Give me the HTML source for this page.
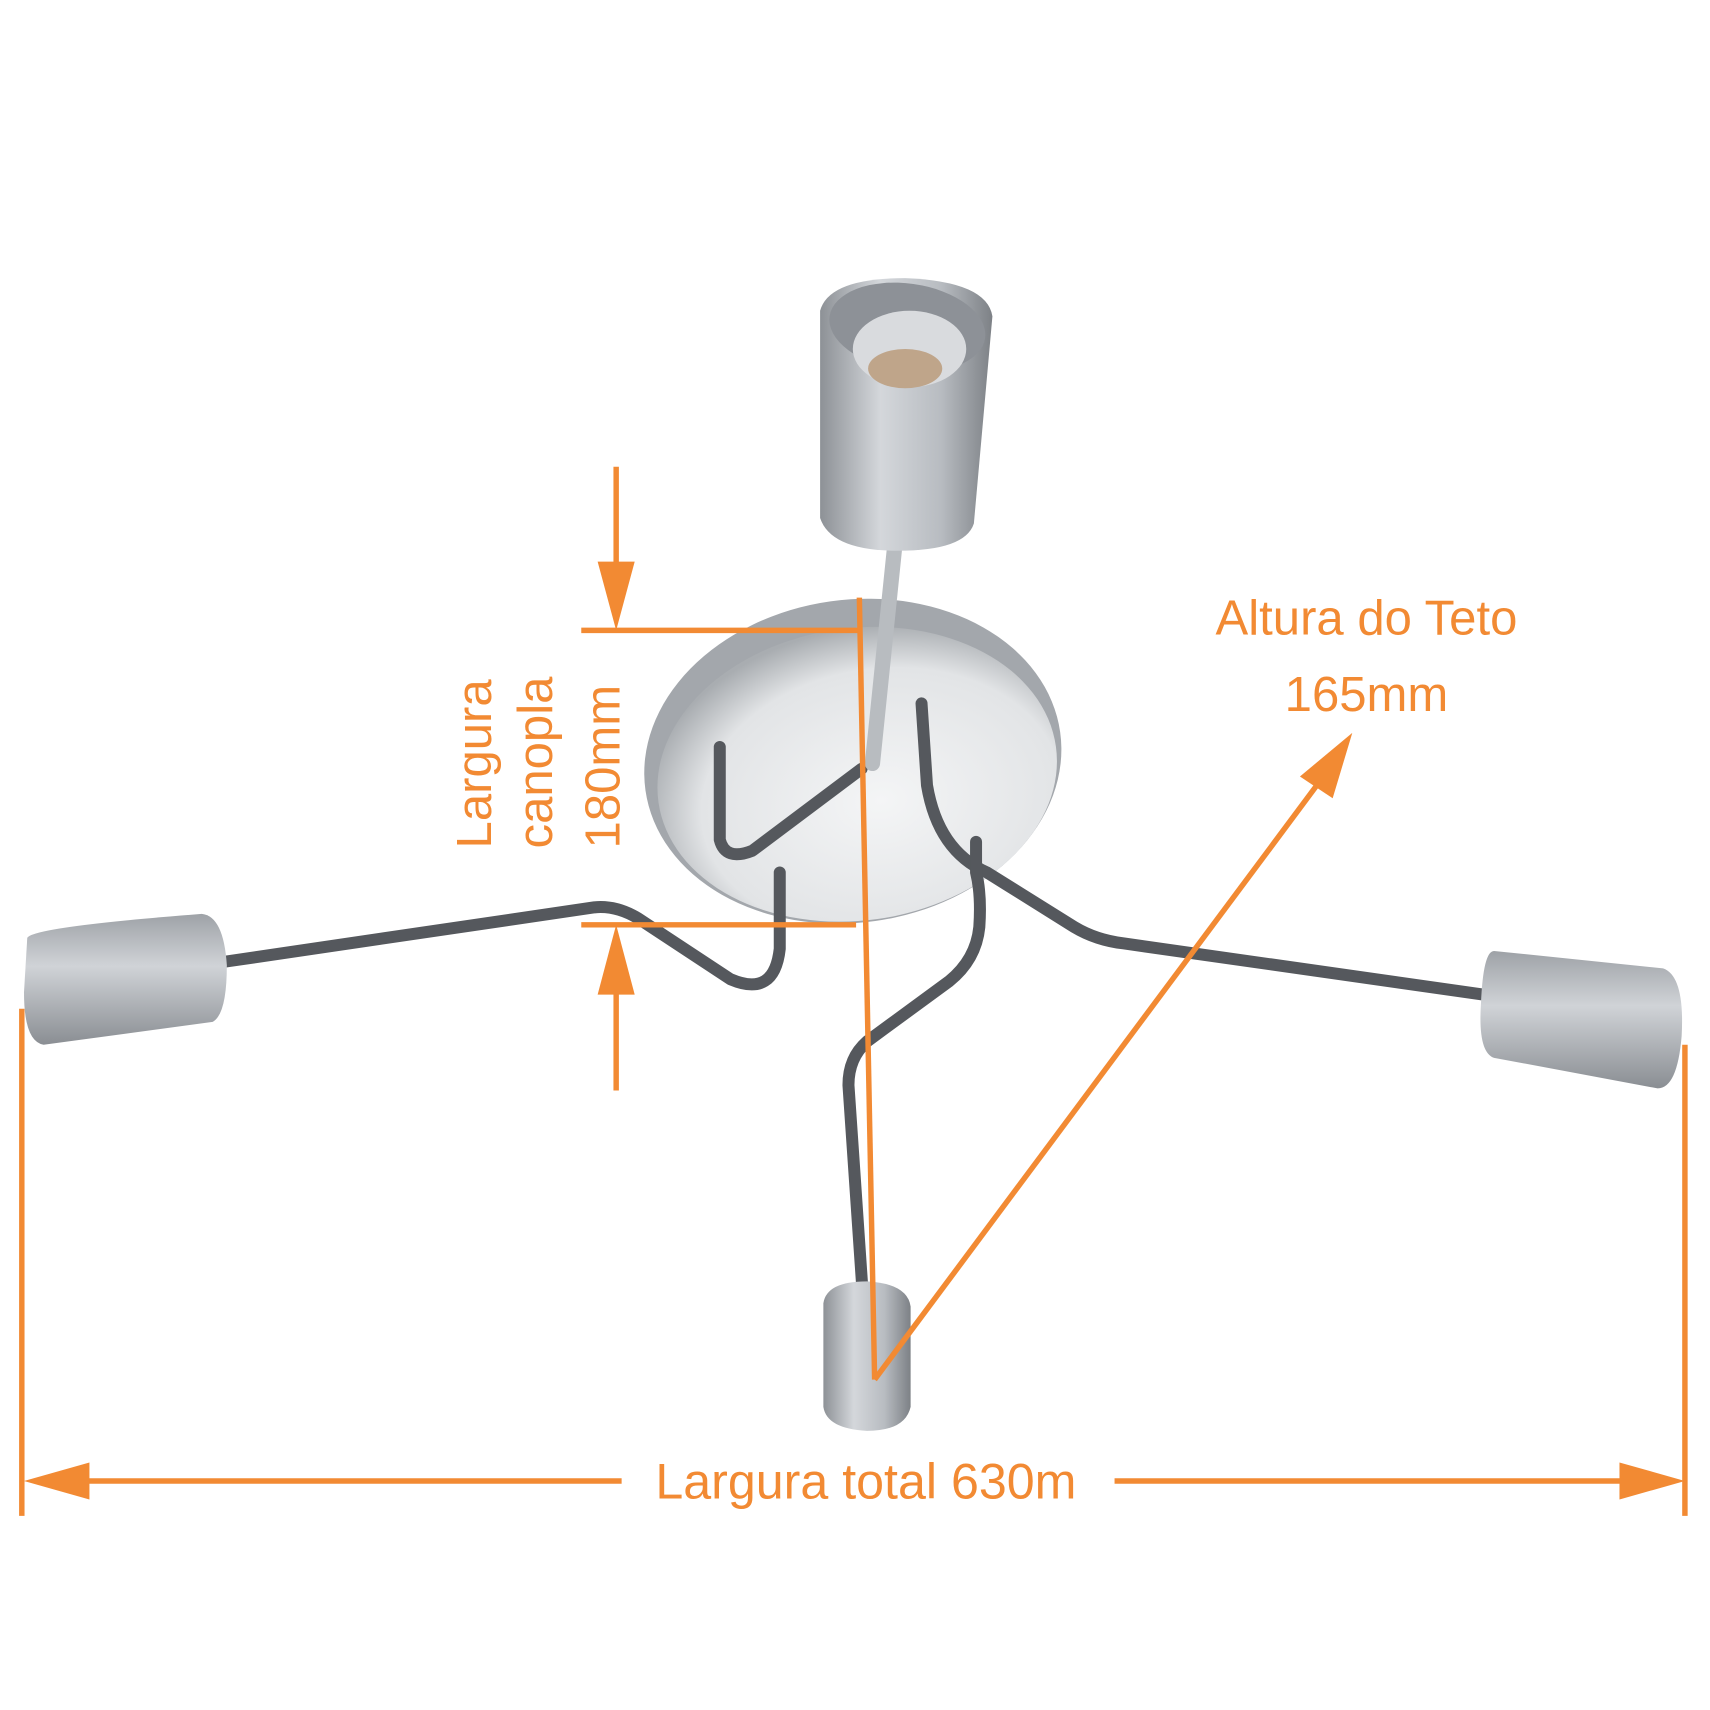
<!DOCTYPE html>
<html><head><meta charset="utf-8"><style>
html,body{margin:0;padding:0;background:#fff}
svg{display:block}
text{font-family:"Liberation Sans",sans-serif;fill:#f28a33}
</style></head><body>
<svg width="1710" height="1710" viewBox="0 0 1568 1568" xmlns="http://www.w3.org/2000/svg">
<defs>
<linearGradient id="cyl" x1="0" x2="1" y1="0" y2="0">
<stop offset="0" stop-color="#8d9196"/><stop offset="0.35" stop-color="#d4d7db"/><stop offset="0.7" stop-color="#b8bcc1"/><stop offset="1" stop-color="#7d8186"/></linearGradient>
<linearGradient id="cylv" x1="0" x2="0" y1="0" y2="1">
<stop offset="0" stop-color="#9ea2a7"/><stop offset="0.4" stop-color="#d0d3d7"/><stop offset="1" stop-color="#8a8e93"/></linearGradient>
<radialGradient id="disc" cx="0.55" cy="0.6" r="0.6">
<stop offset="0" stop-color="#f4f5f6"/><stop offset="0.75" stop-color="#e2e4e6"/><stop offset="1" stop-color="#a9adb1"/></radialGradient>
</defs>
<ellipse cx="782" cy="698" rx="192" ry="148" fill="#a3a7ac" transform="rotate(-8 782 698)"/>
<ellipse cx="786" cy="710" rx="184" ry="134" fill="url(#disc)" transform="rotate(-8 786 710)"/>
<g fill="none" stroke="#55585d" stroke-width="11" stroke-linecap="round" stroke-linejoin="round">
<path d="M205 882 L545 832 Q565 830 585 842 L670 898 Q710 915 715 870 L715 800"/>
<path d="M660 685 L660 770 Q665 790 690 780 L790 705"/>
<path d="M845 645 L850 720 Q860 780 905 800 L985 850 Q1005 862 1030 865 L1360 912"/>
<path d="M895 772 L895 800 Q900 820 898 850 Q895 880 870 900 L795 955 Q778 970 778 995 L792 1200"/>
<path d="M820 505 L800 700" stroke="#b8bcc0" stroke-width="14"/>
</g>
<path d="M752 285 Q760 255 830 255 Q905 258 910 290 L893 480 Q885 505 823 505 Q762 505 752 475 Z" fill="url(#cyl)"/>
<ellipse cx="832" cy="300" rx="72" ry="40" fill="#8d9197" transform="rotate(8 832 300)"/>
<ellipse cx="834" cy="320" rx="52" ry="35" fill="#d9dbde"/>
<ellipse cx="830" cy="338" rx="34" ry="18" fill="#bfa58a"/>
<path d="M25 860 Q30 850 185 838 Q205 840 208 885 Q208 930 195 937 L40 958 Q22 955 22 910 Z" fill="url(#cylv)"/>
<path d="M1370 872 L1525 888 Q1545 895 1542 950 Q1538 998 1520 998 L1370 970 Q1355 965 1358 920 Q1360 872 1370 872 Z" fill="url(#cylv)"/>
<path d="M755 1195 Q758 1175 795 1175 Q832 1177 835 1198 L835 1290 Q830 1312 795 1312 Q758 1310 755 1290 Z" fill="url(#cyl)"/>
<g stroke="#f28a33" stroke-width="5" fill="none">
<line x1="565" y1="428" x2="565" y2="530"/>
<line x1="533" y1="578" x2="790" y2="578"/>
<line x1="533" y1="848" x2="785" y2="848"/>
<line x1="565" y1="895" x2="565" y2="1000"/>
<line x1="788" y1="548" x2="802" y2="1265"/>
<line x1="802" y1="1265" x2="1215" y2="710"/>
<line x1="20" y1="925" x2="20" y2="1390"/>
<line x1="1545" y1="958" x2="1545" y2="1390"/>
<line x1="70" y1="1358" x2="570" y2="1358"/>
<line x1="1022" y1="1358" x2="1495" y2="1358"/>
</g>
<g fill="#f28a33">
<polygon points="548,515 582,515 565,578"/>
<polygon points="548,912 582,912 565,848"/>
<polygon points="1240,672 1192,712 1222,732"/>
<polygon points="22,1358 82,1341 82,1375"/>
<polygon points="1545,1358 1485,1341 1485,1375"/>
</g>
<text x="0" y="0" font-size="45" transform="translate(450 778) rotate(-90)">Largura</text>
<text x="0" y="0" font-size="45" transform="translate(506 778) rotate(-90)">canopla</text>
<text x="0" y="0" font-size="45" transform="translate(568 778) rotate(-90)">180mm</text>
<text x="1253" y="582" font-size="45" text-anchor="middle">Altura do Teto</text>
<text x="1253" y="652" font-size="45" text-anchor="middle">165mm</text>
<text x="794" y="1374" font-size="46" text-anchor="middle">Largura total 630m</text>
</svg>
</body></html>
